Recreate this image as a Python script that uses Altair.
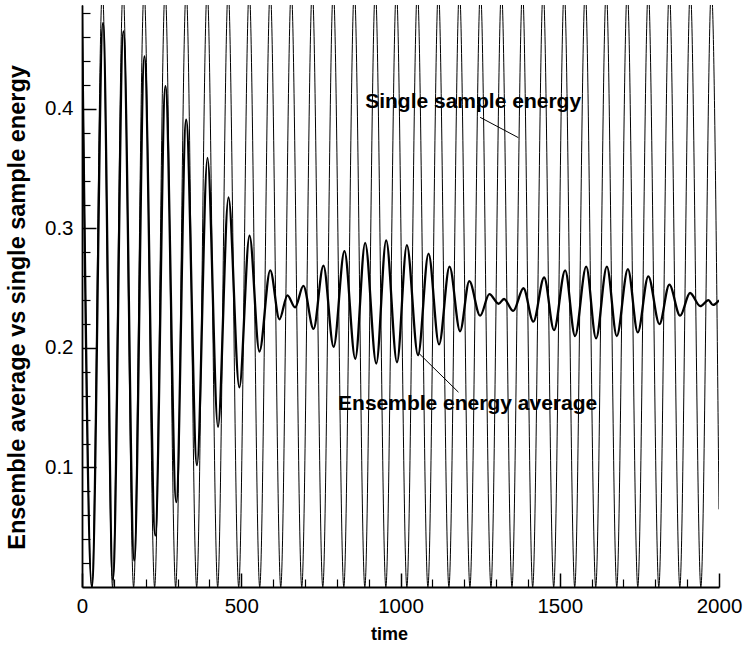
import altair as alt
import pandas as pd

# ---- data ----
single_t = [0, 31, 64, 96, 129, 162, 195, 228, 261, 294, 327, 360, 393, 426, 459, 492,
            525, 558, 591, 624, 657, 690, 723, 756, 789, 822, 855, 888, 921, 954, 987,
            1020, 1053, 1086, 1119, 1152, 1185, 1218, 1251, 1284, 1317, 1350, 1383, 1415,
            1448, 1481, 1514, 1547, 1580, 1613, 1646, 1679, 1712, 1745, 1778, 1811, 1844,
            1877, 1910, 1943, 1976, 2000]
single_v = [0.50, 0.0, 0.50, 0.0, 0.50, 0.0, 0.50, 0.0, 0.50, 0.0, 0.50, 0.0, 0.50, 0.0,
            0.50, 0.0, 0.50, 0.0, 0.50, 0.0, 0.50, 0.0, 0.50, 0.0, 0.50, 0.0, 0.50, 0.0,
            0.50, 0.0, 0.50, 0.0, 0.50, 0.0, 0.50, 0.0, 0.50, 0.0, 0.50, 0.0, 0.50, 0.0,
            0.50, 0.0, 0.50, 0.0, 0.50, 0.0, 0.50, 0.0, 0.50, 0.0, 0.50, 0.0, 0.50, 0.0,
            0.50, 0.0, 0.50, 0.0, 0.50, 0.065]

ens_t = [0, 31, 66, 97, 130, 164, 196, 230, 262, 296, 327, 361, 394, 427, 460, 494, 526,
         557, 591, 620, 645, 669, 695, 727, 758, 790, 824, 858, 889, 924, 955, 989, 1020,
         1055, 1088, 1121, 1154, 1187, 1216, 1250, 1279, 1308, 1325, 1354, 1386, 1417,
         1451, 1482, 1517, 1548, 1583, 1614, 1648, 1679, 1714, 1745, 1778, 1813, 1844,
         1878, 1909, 1941, 1967, 1981, 2000]
ens_v = [0.48, 0.0, 0.472, 0.006, 0.465, 0.022, 0.444, 0.043, 0.419, 0.071, 0.391, 0.102,
         0.359, 0.134, 0.326, 0.167, 0.294, 0.197, 0.265, 0.224, 0.244, 0.234, 0.252, 0.216,
         0.269, 0.201, 0.281, 0.191, 0.288, 0.187, 0.290, 0.188, 0.286, 0.194, 0.279, 0.203,
         0.268, 0.214, 0.256, 0.227, 0.245, 0.237, 0.241, 0.231, 0.250, 0.222, 0.259, 0.215,
         0.265, 0.210, 0.268, 0.208, 0.268, 0.210, 0.266, 0.213, 0.260, 0.220, 0.253, 0.227,
         0.246, 0.235, 0.240, 0.236, 0.240]

x_major = [0, 500, 1000, 1500, 2000]
x_minor = [100, 200, 300, 400, 600, 700, 800, 900, 1100, 1200, 1300, 1400, 1600, 1700,
           1800, 1900]
y_major = [0.1, 0.2, 0.3, 0.4]
y_minor = [0.02, 0.04, 0.06, 0.08, 0.12, 0.14, 0.16, 0.18, 0.22, 0.24, 0.26, 0.28, 0.32,
           0.34, 0.36, 0.38, 0.42, 0.44, 0.46, 0.48]

label_text = ["Single sample energy", "Ensemble energy average"]
label_t = [889, 804]
label_v = [0.401, 0.148]
leader_t1 = [1250, 1056]
leader_v1 = [0.393, 0.196]
leader_t2 = [1370, 1182]
leader_v2 = [0.376, 0.163]

# ---- layout ----
W, H = 637, 582
FONT = "Liberation Sans"

single_df = pd.DataFrame({"time": single_t, "energy": single_v})
ens_df = pd.DataFrame({"time": ens_t, "energy": ens_v})
lab_df = pd.DataFrame({"label": label_text, "time": label_t, "energy": label_v})
lead_df = pd.DataFrame({"t1": leader_t1, "v1": leader_v1, "t2": leader_t2, "v2": leader_v2})

xscale = alt.Scale(domain=[0, 2000], nice=False, zero=False)
yscale = alt.Scale(domain=[0, 0.487], nice=False, zero=False)

x_axis = alt.Axis(values=x_major, format="d", title="time", grid=False,
                  labelFont=FONT, labelFontSize=20.5, labelColor="black",
                  labelFlush=False, labelOverlap=False,
                  labelPadding=23, tickSize={"expr": "-14"}, tickWidth=1.5,
                  tickColor="black", domainColor="black", domainWidth=1.8,
                  titleFont=FONT, titleFontSize=18, titleFontWeight="bold",
                  titleColor="black", titleX=307, titleY=52,
                  titleBaseline="alphabetic", titleAlign="center", orient="bottom")
y_axis = alt.Axis(values=y_major, format=".1f",
                  title="Ensemble average vs single sample energy", grid=False,
                  labelFont=FONT, labelFontSize=20.5, labelColor="black",
                  labelFlush=False, labelOverlap=False,
                  labelPadding=23, tickSize={"expr": "-14"}, tickWidth=1.5,
                  tickColor="black", domainColor="black", domainWidth=1.8,
                  titleFont=FONT, titleFontSize=23.5, titleFontWeight="bold",
                  titleColor="black", titleAngle=270, titleX=-58, titleY=H / 2 + 11,
                  titleBaseline="alphabetic", titleAlign="center", orient="left")

x_minor_axis = alt.Axis(values=x_minor, labels=False, domain=False, grid=False,
                        tickSize={"expr": "-8"}, tickWidth=1.2, tickColor="black",
                        title=None, orient="bottom")
y_minor_axis = alt.Axis(values=y_minor, labels=False, domain=False, grid=False,
                        tickSize={"expr": "-8"}, tickWidth=1.2, tickColor="black",
                        title=None, orient="left")

single = alt.Chart(single_df).mark_line(
    color="black", strokeWidth=1, interpolate="monotone", clip=True
).encode(
    x=alt.X("time:Q", scale=xscale, axis=x_axis),
    y=alt.Y("energy:Q", scale=yscale, axis=y_axis),
)

minor = alt.Chart(single_df).mark_point(opacity=0).encode(
    x=alt.X("time:Q", scale=xscale, axis=x_minor_axis),
    y=alt.Y("energy:Q", scale=yscale, axis=y_minor_axis),
)

ens = alt.Chart(ens_df).mark_line(
    color="black", strokeWidth=2.3, interpolate="monotone", clip=True
).encode(
    x=alt.X("time:Q", scale=xscale, axis=None),
    y=alt.Y("energy:Q", scale=yscale, axis=None),
)

leaders = alt.Chart(lead_df).mark_rule(color="black", strokeWidth=1).encode(
    x=alt.X("t1:Q", scale=xscale, axis=None),
    y=alt.Y("v1:Q", scale=yscale, axis=None),
    x2="t2:Q",
    y2="v2:Q",
)

labels = alt.Chart(lab_df).mark_text(
    align="left", baseline="alphabetic", font=FONT, fontWeight="bold",
    fontSize=21, color="black"
).encode(
    x=alt.X("time:Q", scale=xscale, axis=None),
    y=alt.Y("energy:Q", scale=yscale, axis=None),
    text="label:N",
)

chart = alt.layer(single, minor, ens, leaders, labels).resolve_axis(
    x="independent", y="independent"
).properties(
    width=W, height=H,
    autosize=alt.AutoSizeParams(type="none"),
    padding={"left": 82, "top": 5, "right": 744 - 82 - W, "bottom": 645 - 5 - H},
    background="white",
).configure_view(stroke=None)

chart.save("out.html", embed_options={"renderer": "svg", "actions": False})
